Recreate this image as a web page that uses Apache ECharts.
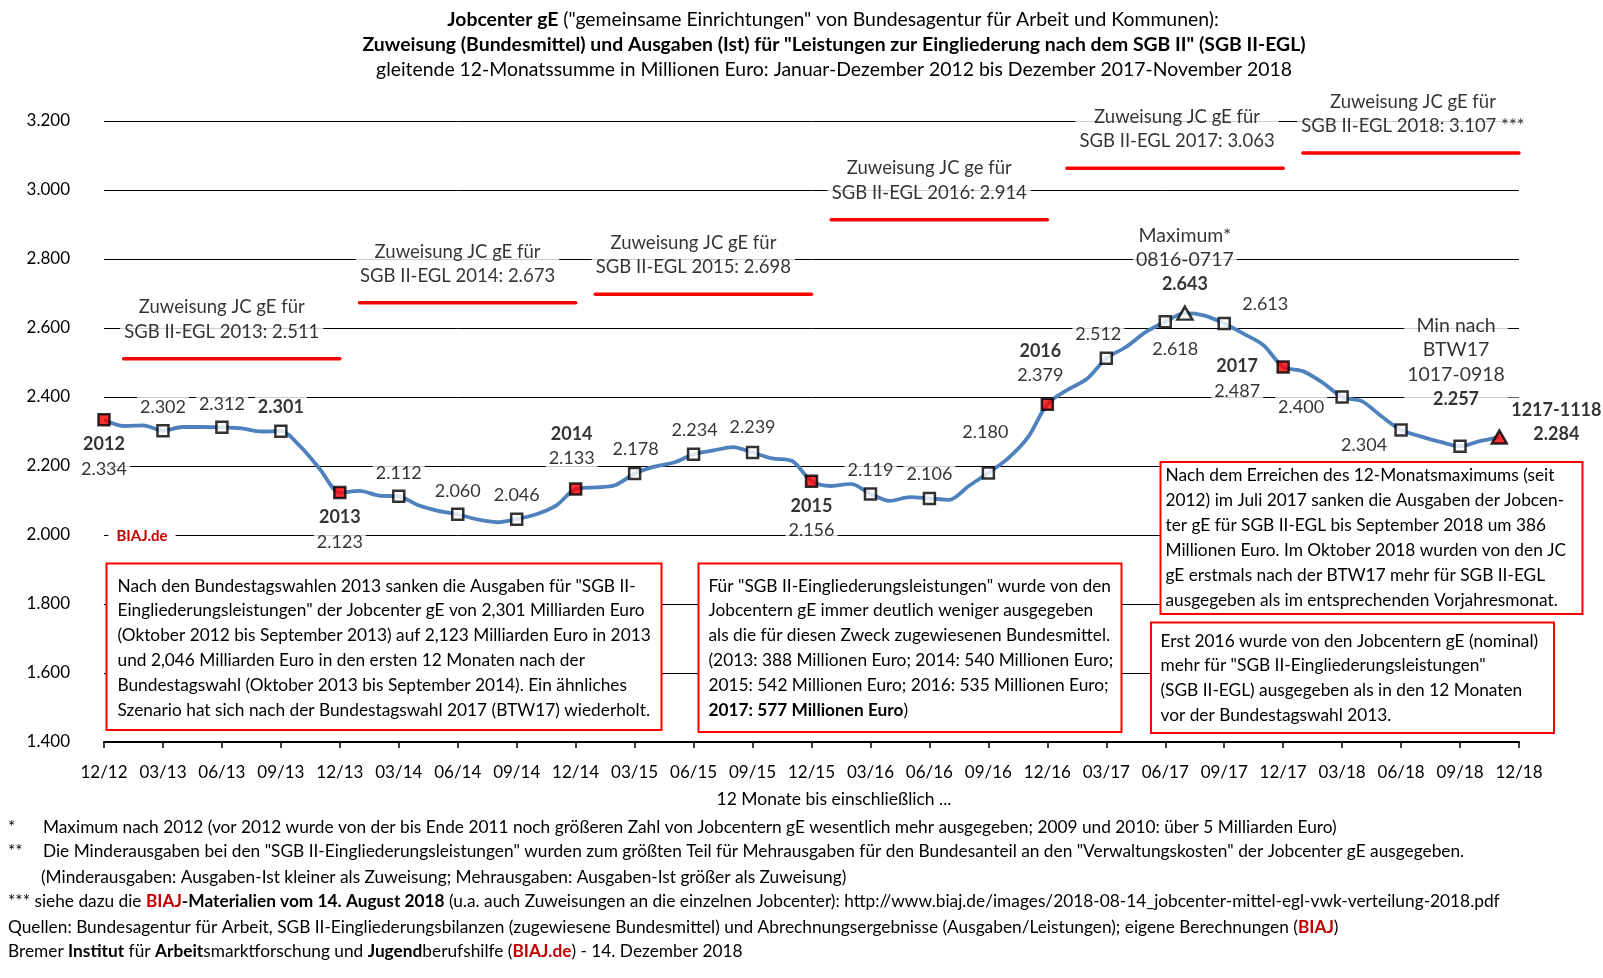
<!DOCTYPE html>
<html><head><meta charset="utf-8">
<script src="https://cdn.jsdelivr.net/npm/echarts@6/dist/echarts.min.js"></script>
<style>html,body{margin:0;padding:0;background:#fff}#c{width:1603px;height:978px}</style>
</head><body><div id="c"></div>
<script>
// ---------- data ----------
const xTickLabels = ['12/12','03/13','06/13','09/13','12/13','03/14','06/14','09/14','12/14','03/15','06/15','09/15','12/15','03/16','06/16','09/16','12/16','03/17','06/17','09/17','12/17','03/18','06/18','09/18','12/18'];
// rolling 12-month sum, Mio. Euro, month index 0 = 12/12 ... 71 = 11/18
const spending = [
  2334,2316,2318,2302,2313,2313,2312,2309,2300,2301,2256,2190,
  2123,2128,2114,2112,2086,2070,2060,2045,2037,2046,2060,2085,
  2133,2138,2144,2178,2198,2210,2234,2245,2255,2239,2222,2215,
  2156,2142,2148,2119,2099,2110,2106,2102,2142,2180,2222,2282,
  2379,2420,2452,2512,2545,2588,2618,2643,2636,2613,2583,2550,
  2487,2475,2442,2400,2388,2344,2304,2286,2270,2257,2272,2284
];
const allocationYears = [2013,2014,2015,2016,2017,2018];
const allocationValues = [2511,2673,2698,2914,3063,3107];
const allocationHead = ['Zuweisung JC gE für','Zuweisung JC gE für','Zuweisung JC gE für','Zuweisung JC ge für','Zuweisung JC gE für','Zuweisung JC gE für'];
const allocationSuffix = ['','','','','',' ***'];
const yearEndIdx = [0,12,24,36,48,60];
const yearEndNames = ['2012','2013','2014','2015','2016','2017'];
const maxIdx = 55, lastIdx = 71;
const maxLines = ['Maximum*','0816-0717'];
const minIdx = 69, minLines = ['Min nach','BTW17','1017-0918'];
const lastLines = ['1217-1118'];
const boldValueIdx = [9,55,69,71];

// ---------- styling ----------
const F = 'Lato, "Open Sans", sans-serif';
const LBL = 18;
const labelOffsets = {
  0:[0,37],3:[0,-23.5],6:[0,-23.5],9:[0,-23.5],12:[0,37],15:[0,-23.5],18:[0,-23.5],21:[0,-23.5],
  24:[-4,-43],27:[1,-24.5],30:[1,-24.5],33:[0,-25.5],36:[0,37],39:[0,-24],42:[0,-24],45:[-3,-41],
  48:[-7,-41],51:[-8,-24.5],54:[10,27.5],55:[0,-53],57:[41,-19.5],60:[-46,11.5],63:[-41,10],66:[-37,15],
  69:[-4,-84],71:[57,-15]
};
function fmt(v){const s=String(Math.round(v));return s.slice(0,-3)+'.'+s.slice(-3);}
function rich(size){return {
  n:{fontFamily:F,fontSize:size,color:'#000',lineHeight:24.5},
  m:{fontFamily:F,fontSize:size+1.5,color:'#000',lineHeight:24.5},
  b:{fontFamily:F,fontSize:size,color:'#000',fontWeight:'bold',lineHeight:24.5}
};}

function labelText(i){
  const v = fmt(spending[i]);
  const yi = yearEndIdx.indexOf(i);
  const valTok = boldValueIdx.includes(i) ? '{b|'+v+'}' : '{n|'+v+'}';
  if (yi >= 0) return '{b|'+yearEndNames[yi]+'}\n'+valTok;
  if (i === maxIdx) return maxLines.map(s=>'{m|'+s+'}').join('\n')+'\n'+valTok;
  if (i === minIdx) return minLines.map(s=>'{m|'+s+'}').join('\n')+'\n'+valTok;
  if (i === lastIdx) return lastLines.map(s=>'{b|'+s+'}').join('\n')+'\n'+valTok;
  return valTok;
}

const markerIdx = [];
for (let i=0;i<72;i+=3) markerIdx.push(i);
markerIdx.push(maxIdx, lastIdx);
markerIdx.sort((a,b)=>a-b);

const markerData = markerIdx.map(i=>{
  let symbol='rect', size=11, fill='#fff';
  if (yearEndIdx.includes(i)) fill='#FF0000';
  if (i===maxIdx){symbol='triangle';size=[15,13];}
  if (i===lastIdx){symbol='triangle';size=[15,13];fill='#FF0000';}
  return {
    value:[i, spending[i]], symbol, symbolSize:size,
    itemStyle:{color:fill,borderColor:'#000',borderWidth:2.5},
    label:{show:true,position:'inside',offset:labelOffsets[i]||[0,-24],formatter:labelText(i)}
  };
});

const series = [];
series.push({
  name:'Ausgaben', type:'line', data:spending.map((v,i)=>[i,v]), smooth:0.3,
  symbol:'none', lineStyle:{color:'#4F81BD',width:3.8}, z:3
});
allocationValues.forEach((v,k)=>{
  series.push({
    type:'line', data:[[12*k+1,v],[12*k+12,v]], symbol:'none',
    lineStyle:{color:'#FF0000',width:3.5,cap:'round'}, z:3
  });
});
series.push({
  type:'scatter', z:6,
  data: allocationValues.map((v,k)=>({
    value:[12*k+6.5, v],
    label:{offset:[k<4?-10:2,-39], formatter:'{n|'+allocationHead[k]+'}\n{n|SGB II-EGL '+allocationYears[k]+': '+fmt(v)+allocationSuffix[k]+'}'}
  })),
  symbolSize:0.1, itemStyle:{color:'rgba(0,0,0,0)'},
  label:{show:true,position:'inside',backgroundColor:'#fff',padding:[0,4],align:'center',verticalAlign:'middle',rich:rich(18.5)}
});
series.push({
  type:'scatter', z:5, data:markerData,
  label:{show:true,backgroundColor:'#fff',padding:[0,3],align:'center',verticalAlign:'middle',rich:rich(LBL)}
});

// ---------- graphic (titles, boxes, notes) ----------
const graphic = [];
function gRich(size){return {
  b:{fontFamily:F,fontSize:size,fontWeight:'bold',fill:'#000'},
  r:{fontFamily:F,fontSize:size,fontWeight:'bold',fill:'#C00000'},
  n:{fontFamily:F,fontSize:size,fill:'#000'}
};}
function txt(x,y,text,size,opts){
  graphic.push({type:'text',x,y,z:100,silent:true,
    style:Object.assign({text,fontFamily:F,fontSize:size,fill:'#000',align:'left',verticalAlign:'middle',rich:gRich(size)},opts||{})});
}
const TS = 19.4;
txt(833,19.5,'{b|Jobcenter gE} ("gemeinsame Einrichtungen" von Bundesagentur für Arbeit und Kommunen):',TS,{align:'center'});
txt(834,45,'{b|Zuweisung (Bundesmittel) und Ausgaben (Ist) für "Leistungen zur Eingliederung nach dem SGB II" (SGB II-EGL)}',TS,{align:'center'});
txt(834,69.5,'gleitende 12-Monatssumme in Millionen Euro: Januar-Dezember 2012 bis Dezember 2017-November 2018',TS,{align:'center'});
txt(834,799.5,'12 Monate bis einschließlich ...',17.5,{align:'center'});
graphic.push({type:'text',x:142,y:535.7,z:100,silent:true,style:{text:'BIAJ.de',fontFamily:F,fontSize:15,fontWeight:'bold',fill:'#C00000',align:'center',verticalAlign:'middle',backgroundColor:'#fff',padding:[0,8]}});

function box(x,y,w,h,lines,lx,ly,size){
  graphic.push({type:'rect',z:90,silent:true,shape:{x,y,width:w,height:h},style:{fill:'#fff',stroke:'#FF0000',lineWidth:2}});
  lines.forEach((s,k)=>txt(lx,ly+k*24.9,s,size));
}
const BS = 17.3;
box(106.5,563.5,555,166.5,[
 'Nach den Bundestagswahlen 2013 sanken die Ausgaben für "SGB II-',
 'Eingliederungsleistungen" der Jobcenter gE von 2,301 Milliarden Euro',
 '(Oktober 2012 bis September 2013) auf 2,123 Milliarden Euro in 2013',
 'und 2,046 Milliarden Euro in den ersten 12 Monaten nach der',
 'Bundestagswahl (Oktober 2013 bis September 2014). Ein ähnliches',
 'Szenario hat sich nach der Bundestagswahl 2017 (BTW17) wiederholt.'
],117.5,586,BS);
box(698.5,563.5,423,168.5,[
 'Für "SGB II-Eingliederungsleistungen" wurde von den',
 'Jobcentern gE immer deutlich weniger ausgegeben',
 'als die für diesen Zweck zugewiesenen Bundesmittel.',
 '(2013: 388 Millionen Euro; 2014: 540 Millionen Euro;',
 '2015: 542 Millionen Euro; 2016: 535 Millionen Euro;',
 '{b|2017: 577 Millionen Euro})'
],708.5,586,BS);
box(1160.5,462,422,152,[
 'Nach dem Erreichen des 12-Monatsmaximums (seit',
 '2012) im Juli 2017 sanken die Ausgaben der Jobcen-',
 'ter gE für SGB II-EGL bis September 2018 um 386',
 'Millionen Euro. Im Oktober 2018 wurden von den JC',
 'gE erstmals nach der BTW17 mehr für SGB II-EGL',
 'ausgegeben als im entsprechenden Vorjahresmonat.'
],1165.5,475.5,BS);
box(1151,622.5,403,110.5,[
 'Erst 2016 wurde von den Jobcentern gE (nominal)',
 'mehr für "SGB II-Eingliederungsleistungen"',
 '(SGB II-EGL) ausgegeben als in den 12 Monaten',
 'vor der Bundestagswahl 2013.'
],1160.5,641,BS);

const FS = 17.3;
txt(8,827,'*',FS);
txt(43,827,'Maximum nach 2012 (vor 2012 wurde von der bis Ende 2011 noch größeren Zahl von Jobcentern gE wesentlich mehr ausgegeben; 2009 und 2010: über 5 Milliarden Euro)',FS);
txt(8,851.5,'**',FS);
txt(43,851.5,'Die Minderausgaben bei den "SGB II-Eingliederungsleistungen" wurden zum größten Teil für Mehrausgaben für den Bundesanteil an den "Verwaltungskosten" der Jobcenter gE ausgegeben.',FS);
txt(41,877,'(Minderausgaben: Ausgaben-Ist kleiner als Zuweisung; Mehrausgaben: Ausgaben-Ist größer als Zuweisung)',FS);
txt(8,901.5,'*** siehe dazu die {r|BIAJ}{b|-Materialien vom 14. August 2018} (u.a. auch Zuweisungen an die einzelnen Jobcenter): http://www.biaj.de/images/2018-08-14_jobcenter-mittel-egl-vwk-verteilung-2018.pdf',FS);
txt(8,927,'Quellen: Bundesagentur für Arbeit, SGB II-Eingliederungsbilanzen (zugewiesene Bundesmittel) und Abrechnungsergebnisse (Ausgaben/Leistungen); eigene Berechnungen ({r|BIAJ})',FS);
txt(8,951.5,'Bremer {b|Institut} für {b|Arbeit}smarktforschung und {b|Jugend}berufshilfe ({r|BIAJ.de}) - 14. Dezember 2018',FS);

const chart = echarts.init(document.getElementById('c'),null,{renderer:'canvas'});
chart.setOption({
  animation:false,
  backgroundColor:'#fff',
  textStyle:{fontFamily:F},
  grid:{left:104,right:84,top:121,bottom:236,containLabel:false},
  xAxis:{type:'value',min:0,max:72,interval:3,
    axisLine:{show:true,lineStyle:{color:'#000',width:2}},
    axisTick:{show:true,length:6,lineStyle:{color:'#000',width:1.5}},
    axisLabel:{margin:22,fontFamily:F,fontSize:17,color:'#000',formatter:v=>xTickLabels[Math.round(v/3)]||''},
    splitLine:{show:false}},
  yAxis:{type:'value',min:1400,max:3200,interval:200,
    axisLine:{show:false},axisTick:{show:false},
    axisLabel:{margin:34,fontFamily:F,fontSize:17,color:'#000',formatter:v=>fmt(v)},
    splitLine:{show:true,lineStyle:{color:'#000',width:1}}},
  series,
  graphic
});
</script>
</body></html>
